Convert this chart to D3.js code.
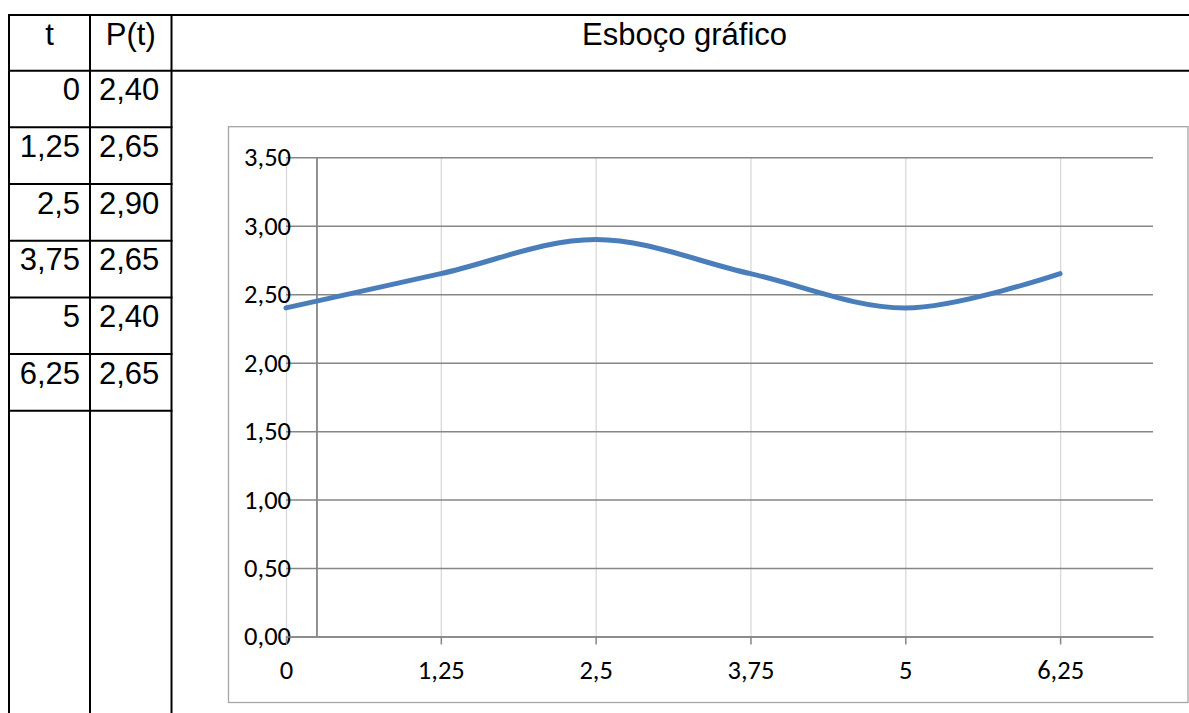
<!DOCTYPE html>
<html>
<head>
<meta charset="utf-8">
<script src="https://cdn.jsdelivr.net/npm/d3@7"></script>
<style>
  html, body { margin: 0; padding: 0; background: #fff; }
  svg { display: block; }
</style>
</head>
<body>
<svg id="chart" width="1189" height="713"></svg>
<script>
// Values of P(t) sampled every 1.25 units of t
const tValues = [0, 1.25, 2.5, 3.75, 5, 6.25];
const pValues = [2.40, 2.65, 2.90, 2.65, 2.40, 2.65];
const tLabels = ["0", "1,25", "2,5", "3,75", "5", "6,25"];
const pLabels = ["2,40", "2,65", "2,90", "2,65", "2,40", "2,65"];
const yTickValues = [0, 0.5, 1, 1.5, 2, 2.5, 3, 3.5];
const yTickLabels = ["0,00", "0,50", "1,00", "1,50", "2,00", "2,50", "3,00", "3,50"];
const headers = ["t", "P(t)", "Esboço gráfico"];

const svg = d3.select("#chart");
const W = 1189, H = 713;

// ---------- table ----------
const colX = [9, 90, 171.5, 1189];
const tableTop = 15, headerBottom = 70.7, rowH = 56.67;
const tableFont = "'Liberation Sans', Arial, sans-serif";
const tbl = svg.append("g").attr("class", "table");
const lineAttrs = sel => sel.attr("stroke", "#000").attr("stroke-width", 2);

tbl.append("line").attr("x1", colX[0] - 1).attr("x2", W).attr("y1", tableTop).attr("y2", tableTop).call(lineAttrs);
tbl.append("line").attr("x1", colX[0] - 1).attr("x2", W).attr("y1", headerBottom).attr("y2", headerBottom).call(lineAttrs);
tbl.selectAll("line.row").data(tValues).join("line")
  .attr("class", "row")
  .attr("x1", colX[0] - 1).attr("x2", colX[2] + 1)
  .attr("y1", (d, i) => headerBottom + (i + 1) * rowH)
  .attr("y2", (d, i) => headerBottom + (i + 1) * rowH)
  .call(lineAttrs);
tbl.selectAll("line.col").data(colX.slice(0, 3)).join("line")
  .attr("class", "col")
  .attr("x1", d => d).attr("x2", d => d)
  .attr("y1", tableTop - 1).attr("y2", H)
  .call(lineAttrs);

const hdrX = [(colX[0] + colX[1]) / 2, (colX[1] + colX[2]) / 2, 684.5];
tbl.selectAll("text.hdr").data(headers).join("text")
  .attr("class", "hdr")
  .attr("x", (d, i) => hdrX[i]).attr("y", 45)
  .attr("text-anchor", "middle")
  .attr("font-family", tableFont).attr("font-size", 31)
  .attr("fill", "#000")
  .text(d => d);

tbl.selectAll("text.tcell").data(tLabels).join("text")
  .attr("class", "tcell")
  .attr("x", 80).attr("y", (d, i) => headerBottom + i * rowH + 29.5)
  .attr("text-anchor", "end")
  .attr("font-family", tableFont).attr("font-size", 31)
  .text(d => d);
tbl.selectAll("text.pcell").data(pLabels).join("text")
  .attr("class", "pcell")
  .attr("x", 99).attr("y", (d, i) => headerBottom + i * rowH + 29.5)
  .attr("text-anchor", "start")
  .attr("font-family", tableFont).attr("font-size", 31)
  .text(d => d);

// ---------- chart ----------
const chartFont = "Carlito, Calibri, 'Open Sans', sans-serif";
svg.append("rect")
  .attr("x", 228.5).attr("y", 126.7).attr("width", 1188 - 228.5).attr("height", 702.5 - 126.7)
  .attr("fill", "#fff").attr("stroke", "#a6a6a6").attr("stroke-width", 1.3);

const x = d3.scaleLinear().domain([0, 7]).range([286, 1153]);
const y = d3.scaleLinear().domain([0, 3.5]).range([636.5, 157.3]);
const yAxisCross = 0.25;

// vertical gridlines (light)
svg.append("g")
  .attr("transform", `translate(0,${y(0)})`)
  .call(d3.axisBottom(x).tickValues(tValues).tickSize(-(y(0) - y(3.5))).tickFormat(""))
  .call(g => g.select(".domain").remove())
  .call(g => g.selectAll(".tick line").attr("stroke", "#d9d9d9").attr("stroke-width", 1.3));

// horizontal gridlines
svg.append("g")
  .attr("transform", `translate(${x(0)},0)`)
  .call(d3.axisLeft(y).tickValues(yTickValues).tickSize(-(x(7) - x(0))).tickFormat(""))
  .call(g => g.select(".domain").remove())
  .call(g => g.selectAll(".tick line").attr("stroke", "#868686").attr("stroke-width", 1.5));

// y tick labels
svg.append("g")
  .attr("transform", `translate(291,0)`)
  .call(d3.axisLeft(y).tickValues(yTickValues).tickSize(0).tickPadding(0)
    .tickFormat((d, i) => yTickLabels[i]))
  .call(g => g.select(".domain").remove())
  .call(g => g.selectAll("text").attr("font-family", chartFont).attr("font-size", 26.5).attr("fill", "#000"));

// vertical axis line
svg.append("line")
  .attr("x1", x(yAxisCross)).attr("x2", x(yAxisCross))
  .attr("y1", y(3.5)).attr("y2", y(0))
  .attr("stroke", "#868686").attr("stroke-width", 1.8);

// horizontal axis with ticks and labels
svg.append("g")
  .attr("transform", `translate(0,${y(0)})`)
  .call(d3.axisBottom(x).tickValues(tValues).tickSize(8).tickSizeOuter(0).tickPadding(16)
    .tickFormat((d, i) => tLabels[i]))
  .call(g => g.select(".domain").attr("stroke", "#868686").attr("stroke-width", 1.5))
  .call(g => g.selectAll(".tick line").attr("stroke", "#868686").attr("stroke-width", 1.5))
  .call(g => g.selectAll("text").attr("font-family", chartFont).attr("font-size", 26.5).attr("fill", "#000"));

// smoothed series line
const line = d3.line()
  .x((d, i) => x(tValues[i]))
  .y(d => y(d))
  .curve(d3.curveCatmullRom.alpha(0.5));
svg.append("path")
  .datum(pValues)
  .attr("d", line)
  .attr("fill", "none")
  .attr("stroke", "#4a7ebb")
  .attr("stroke-width", 5)
  .attr("stroke-linecap", "round")
  .attr("stroke-linejoin", "round");
</script>
</body>
</html>
